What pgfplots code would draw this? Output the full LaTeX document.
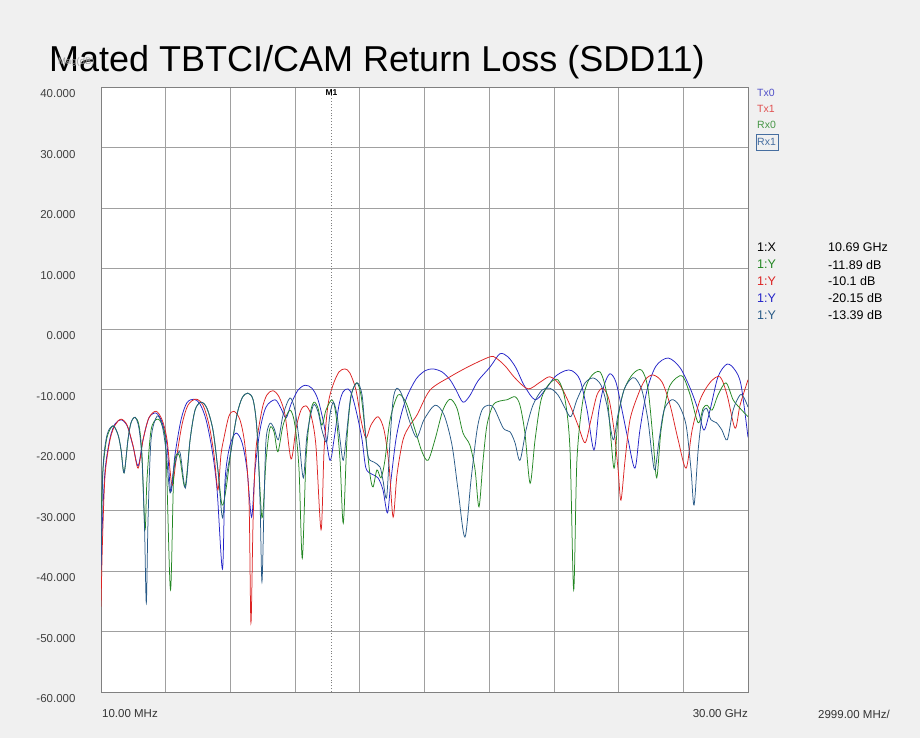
\documentclass[border=0pt]{standalone}
\usepackage{fontspec}
\setmainfont{Liberation Sans}
\usepackage{pgfplots}
\pgfplotsset{compat=1.18}
\usepackage{pgfplotstable}
\definecolor{bgc}{RGB}{240,240,240}
\definecolor{gridc}{RGB}{160,160,160}
\definecolor{tx0}{RGB}{35,35,200}
\definecolor{tx1}{RGB}{220,35,35}
\definecolor{rx0}{RGB}{35,135,35}
\definecolor{rx1}{RGB}{40,90,135}
\definecolor{tx0l}{RGB}{80,80,200}
\definecolor{tx1l}{RGB}{225,80,80}
\definecolor{rx0l}{RGB}{70,150,70}
\definecolor{rx1l}{RGB}{70,110,160}

\pgfplotstableread{
x y
0.01 -39.8
0.08 -31.6
0.20 -23.3
0.43 -18.0
0.66 -15.7
0.94 -15.0
1.22 -16.0
1.49 -19.3
1.73 -22.6
1.96 -18.3
2.23 -14.7
2.56 -13.9
2.84 -15.4
3.07 -19.2
3.25 -26.9
3.44 -20.8
3.72 -15.0
3.99 -12.2
4.32 -11.6
4.60 -12.4
4.88 -15.0
5.16 -20.0
5.39 -26.6
5.64 -39.7
5.76 -25.0
5.99 -19.2
6.27 -17.2
6.55 -18.8
6.78 -23.3
6.99 -31.1
7.15 -23.3
7.38 -16.7
7.66 -12.9
8.08 -11.7
8.35 -13.1
8.59 -14.7
8.82 -12.4
9.14 -10.1
9.47 -9.3
9.79 -9.8
10.07 -11.7
10.35 -15.9
10.62 -21.7
10.81 -18.3
11.04 -12.6
11.23 -10.4
11.46 -9.9
11.64 -10.9
11.88 -14.2
12.11 -18.3
12.29 -23.0
12.57 -24.0
12.85 -24.6
13.08 -26.6
13.29 -30.4
13.45 -25.0
13.68 -18.3
13.92 -14.2
14.19 -11.2
14.61 -8.3
15.03 -6.9
15.40 -6.6
15.82 -7.1
16.19 -8.4
16.47 -10.1
16.79 -12.1
17.11 -11.0
17.48 -8.6
18.04 -6.3
18.50 -4.1
18.87 -4.6
19.24 -6.4
19.62 -9.3
20.13 -11.7
20.59 -10.1
21.05 -7.9
21.52 -6.9
21.84 -6.9
22.21 -8.4
22.54 -13.4
22.86 -20.0
23.09 -13.4
23.33 -9.3
23.60 -7.4
23.88 -8.8
24.16 -13.4
24.44 -18.3
24.76 -23.0
24.99 -16.7
25.32 -10.1
25.74 -6.1
26.30 -4.8
26.85 -6.4
27.32 -9.8
27.69 -13.4
27.96 -16.7
28.24 -13.4
28.61 -7.9
29.03 -5.8
29.40 -6.8
29.68 -9.3
30.00 -17.9
}\txzero

\pgfplotstableread{
x y
0.01 -45.9
0.08 -34.9
0.20 -24.1
0.43 -18.3
0.66 -15.9
0.94 -14.9
1.22 -15.9
1.49 -19.2
1.73 -23.0
1.96 -18.3
2.23 -14.7
2.56 -13.6
2.84 -15.0
3.07 -18.3
3.30 -25.8
3.49 -21.7
3.76 -15.9
4.04 -12.6
4.41 -11.6
4.74 -12.6
5.02 -15.9
5.25 -20.8
5.43 -26.6
5.57 -20.8
5.71 -18.0
5.94 -14.4
6.17 -13.6
6.45 -15.0
6.68 -19.2
6.87 -28.3
6.96 -48.6
7.06 -31.6
7.19 -20.0
7.47 -13.4
7.70 -10.9
7.98 -10.2
8.26 -11.2
8.54 -14.2
8.82 -21.5
9.05 -16.4
9.28 -13.4
9.51 -12.7
9.74 -14.2
9.97 -19.2
10.21 -33.2
10.35 -20.0
10.53 -12.6
10.76 -9.3
11.04 -7.1
11.32 -6.6
11.55 -7.3
11.83 -10.1
12.06 -15.0
12.29 -18.0
12.52 -15.9
12.85 -14.5
13.13 -16.7
13.36 -22.5
13.55 -31.1
13.73 -24.1
14.01 -18.3
14.33 -15.9
14.66 -14.2
15.26 -10.1
16.19 -7.9
17.11 -6.1
18.04 -4.6
18.32 -4.8
18.74 -6.1
19.20 -8.1
19.80 -9.9
20.36 -8.8
20.82 -7.9
21.29 -9.3
21.75 -12.6
22.12 -15.9
22.45 -18.8
22.72 -15.0
23.00 -10.9
23.28 -9.8
23.56 -11.7
23.79 -16.7
23.98 -23.3
24.11 -28.3
24.30 -21.7
24.53 -15.0
24.90 -10.9
25.23 -8.4
25.60 -7.6
26.02 -8.8
26.39 -12.6
26.76 -18.3
27.13 -23.0
27.41 -16.7
27.78 -11.7
28.25 -8.8
28.70 -7.9
29.03 -10.9
29.40 -16.4
29.63 -12.6
30.00 -8.4
}\txone

\pgfplotstableread{
x y
0.01 -31.6
0.10 -23.3
0.29 -17.9
0.57 -16.0
0.80 -17.5
0.94 -20.0
1.08 -23.8
1.26 -18.3
1.40 -15.5
1.59 -14.6
1.77 -15.9
1.91 -20.8
2.05 -33.2
2.14 -25.0
2.33 -16.7
2.61 -14.9
2.84 -15.9
3.02 -20.0
3.23 -43.1
3.39 -23.3
3.63 -20.8
3.90 -26.1
4.14 -18.3
4.37 -13.4
4.65 -12.1
4.92 -13.1
5.20 -16.7
5.43 -23.3
5.62 -29.1
5.80 -26.6
6.04 -20.0
6.31 -14.2
6.55 -11.4
6.81 -10.6
7.06 -11.7
7.24 -16.7
7.47 -31.2
7.66 -21.7
7.84 -16.4
8.03 -17.0
8.21 -20.3
8.45 -15.9
8.77 -13.4
9.00 -15.9
9.19 -23.3
9.34 -37.9
9.51 -21.7
9.70 -14.2
9.88 -12.1
10.07 -13.1
10.25 -15.9
10.44 -13.4
10.72 -11.7
10.90 -14.2
11.09 -21.7
11.24 -32.1
11.41 -18.3
11.60 -11.2
11.86 -8.9
12.06 -10.9
12.25 -16.7
12.48 -24.1
12.62 -26.1
12.80 -23.3
12.99 -24.6
13.17 -21.7
13.41 -15.0
13.78 -10.9
14.15 -12.2
14.57 -16.7
14.89 -20.3
15.17 -21.7
15.49 -18.3
15.86 -13.4
16.19 -11.6
16.51 -13.1
16.79 -17.2
17.11 -19.2
17.35 -23.3
17.53 -29.4
17.72 -21.7
17.90 -15.9
18.18 -12.6
18.50 -11.9
18.83 -11.7
19.20 -11.2
19.43 -12.6
19.66 -17.2
19.90 -25.5
20.13 -18.3
20.41 -11.7
20.78 -9.1
21.19 -8.4
21.52 -11.7
21.75 -20.0
21.92 -43.1
22.07 -21.7
22.35 -11.7
22.67 -8.1
23.14 -7.1
23.46 -10.9
23.65 -18.3
23.80 -23.0
23.97 -15.0
24.25 -10.1
24.67 -7.4
25.07 -6.8
25.36 -9.8
25.60 -18.3
25.77 -24.6
25.97 -16.7
26.30 -10.1
26.67 -8.1
26.99 -7.9
27.32 -10.9
27.69 -15.5
27.92 -13.1
28.10 -12.6
28.34 -13.4
28.61 -10.9
28.98 -8.9
29.31 -11.7
29.63 -13.1
30.00 -14.5
}\rxzero

\pgfplotstableread{
x y
0.01 -39.8
0.10 -23.3
0.29 -17.5
0.57 -16.0
0.80 -17.5
0.94 -20.0
1.08 -23.8
1.26 -18.3
1.40 -15.5
1.59 -14.6
1.77 -16.4
1.91 -21.7
2.03 -33.2
2.11 -45.3
2.19 -31.6
2.33 -18.3
2.61 -14.4
2.84 -15.9
3.02 -20.0
3.21 -27.1
3.39 -23.0
3.66 -20.3
3.92 -26.3
4.14 -18.3
4.37 -13.4
4.65 -12.1
4.92 -13.1
5.20 -16.7
5.43 -23.3
5.64 -31.2
5.80 -25.0
6.04 -20.0
6.31 -14.2
6.55 -11.4
6.81 -10.6
7.06 -11.7
7.24 -16.7
7.38 -28.3
7.47 -41.8
7.57 -28.3
7.66 -18.3
7.84 -15.6
8.03 -16.4
8.23 -18.3
8.45 -14.2
8.77 -11.4
9.00 -13.4
9.19 -18.3
9.39 -24.6
9.56 -17.5
9.85 -12.6
10.07 -13.7
10.25 -16.7
10.47 -18.7
10.62 -14.2
10.78 -12.1
10.95 -14.2
11.09 -18.3
11.24 -21.7
11.41 -16.7
11.60 -10.9
11.89 -8.9
12.11 -10.9
12.25 -16.7
12.40 -21.2
12.66 -22.0
12.94 -22.8
13.08 -25.0
13.25 -27.8
13.41 -18.3
13.55 -11.7
13.72 -9.8
13.96 -10.9
14.29 -15.0
14.64 -17.9
14.98 -15.0
15.49 -12.6
15.91 -14.2
16.28 -19.2
16.56 -26.6
16.88 -34.4
17.16 -25.0
17.44 -16.7
17.67 -13.4
17.95 -12.6
18.23 -13.1
18.66 -16.4
18.97 -17.0
19.20 -18.8
19.43 -21.7
19.71 -16.7
20.03 -12.6
20.45 -10.1
20.82 -9.8
21.19 -10.9
21.52 -13.1
21.79 -14.5
22.07 -11.7
22.45 -8.9
22.83 -8.1
23.19 -9.3
23.46 -12.6
23.75 -18.3
23.97 -14.2
24.25 -10.1
24.53 -8.4
24.76 -8.1
25.08 -10.1
25.36 -15.0
25.55 -20.8
25.69 -23.3
25.88 -18.3
26.11 -13.4
26.46 -11.7
26.80 -12.6
27.13 -15.9
27.36 -23.3
27.50 -29.1
27.69 -20.0
27.88 -14.2
28.08 -13.1
28.28 -15.0
28.54 -15.5
28.79 -16.7
29.04 -18.3
29.31 -13.4
29.63 -10.9
29.82 -11.4
30.00 -12.9
}\rxone

\begin{document}
\begin{tikzpicture}
\fill[bgc] (0,0) rectangle (920bp,738bp);
\path[use as bounding box] (0,0) rectangle (920bp,738bp);
\node[anchor=base west, font=\fontsize{36bp}{40bp}\selectfont, inner sep=0] at (49bp,666bp) {Mated TBTCI/CAM Return Loss (SDD11)};
\node[anchor=base west, text=gray!75, font=\fontsize{9.5bp}{10bp}\selectfont, inner sep=0] at (58bp,673bp) {Mag(dB)};
\begin{axis}[
  at={(101bp,46bp)}, anchor=south west,
  scale only axis, width=647bp, height=605bp,
  xmin=0.01, xmax=30, ymin=-60, ymax=40,
  axis background/.style={fill=white},
  xtick={0.01,3.009,6.008,9.007,12.006,15.005,18.004,21.003,24.002,27.001,30},
  xticklabels={},
  ytick={-60,-50,-40,-30,-20,-10,0,10,20,30,40},
  yticklabels={-60.000,-50.000,-40.000,-30.000,-20.000,-10.000,0.000,10.000,20.000,30.000,40.000},
  yticklabel style={anchor=east, xshift=-22bp, yshift=-7bp, text=black!75, font=\fontsize{11.5bp}{12bp}\selectfont},
  major tick length=0pt,
  grid=major,
  grid style={color=gridc, line width=0.8bp},
  axis line style={color=gray, line width=0.8bp},
  clip=true,
]
\addplot[tx0, line width=0.75bp, smooth, tension=0.5] table {\txzero};
\addplot[tx1, line width=0.75bp, smooth, tension=0.5] table {\txone};
\addplot[rx0, line width=0.75bp, smooth, tension=0.5] table {\rxzero};
\addplot[rx1, line width=0.75bp, smooth, tension=0.5] table {\rxone};
\draw[gray, dotted, line width=0.9bp] (axis cs:10.69,-60) -- (axis cs:10.69,40);
\node[anchor=north, font=\fontsize{8.5bp}{9bp}\selectfont\bfseries, inner sep=1bp, yshift=-1bp] at (axis cs:10.69,40) {M1};
\end{axis}
% bottom labels
\node[anchor=west, inner sep=0, font=\fontsize{11.5bp}{12bp}\selectfont, text=black!80] at (102bp,24bp) {10.00 MHz};
\node[anchor=east, inner sep=0, font=\fontsize{11.5bp}{12bp}\selectfont, text=black!80] at (748bp,24bp) {30.00 GHz};
\node[anchor=west, inner sep=0, font=\fontsize{11.5bp}{12bp}\selectfont, text=black!80] at (818bp,24bp) {2999.00 MHz/};
% legend
\node[anchor=west, inner sep=0, font=\fontsize{10.5bp}{11bp}\selectfont, text=tx0l] at (757bp,645bp) {Tx0};
\node[anchor=west, inner sep=0, font=\fontsize{10.5bp}{11bp}\selectfont, text=tx1l] at (757bp,628.7bp) {Tx1};
\node[anchor=west, inner sep=0, font=\fontsize{10.5bp}{11bp}\selectfont, text=rx0l] at (757bp,613bp) {Rx0};
\node[anchor=west, inner sep=0, font=\fontsize{10.5bp}{11bp}\selectfont, text=rx1l] at (757bp,596.3bp) {Rx1};
\draw[rx1l, line width=0.7bp] (756.5bp,587.3bp) rectangle (778bp,603.7bp);
% marker readout
\begin{scope}[every node/.style={anchor=west, inner sep=0, font=\fontsize{12.5bp}{13bp}\selectfont}]
\node[text=black] at (757bp,490.3bp) {1:X};
\node[text=black] at (828bp,490.3bp) {10.69 GHz};
\node[text=rx0] at (757bp,473.3bp) {1:Y};
\node[text=black] at (828bp,473.3bp) {-11.89 dB};
\node[text=tx1] at (757bp,456.7bp) {1:Y};
\node[text=black] at (828bp,456.7bp) {-10.1 dB};
\node[text=tx0] at (757bp,439.7bp) {1:Y};
\node[text=black] at (828bp,439.7bp) {-20.15 dB};
\node[text=rx1] at (757bp,423bp) {1:Y};
\node[text=black] at (828bp,423bp) {-13.39 dB};
\end{scope}
\end{tikzpicture}
\end{document}
